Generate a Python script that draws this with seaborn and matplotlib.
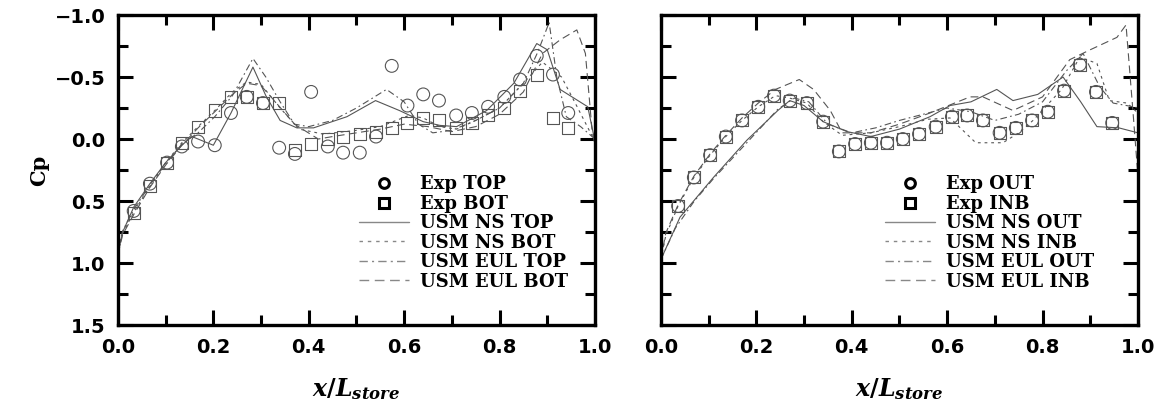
import numpy as np
import pandas as pd
import matplotlib
matplotlib.use('Agg')
import matplotlib.pyplot as plt
import seaborn as sns
from matplotlib.lines import Line2D

# ---- experiment points (x/L, Cp) ----
exp_x = [0.033, 0.067, 0.103, 0.134, 0.168, 0.203, 0.237, 0.270, 0.304, 0.338,
         0.371, 0.405, 0.440, 0.472, 0.507, 0.541, 0.574, 0.607, 0.640, 0.673,
         0.709, 0.742, 0.776, 0.810, 0.843, 0.878, 0.912, 0.944]
exp_top = [0.58, 0.36, 0.19, 0.06, 0.02, 0.05, -0.21, -0.34, -0.29, 0.07,
           0.12, -0.38, 0.06, 0.11, 0.11, -0.02, -0.59, -0.27, -0.36, -0.31,
           -0.19, -0.21, -0.26, -0.34, -0.48, -0.67, -0.52, -0.21]
exp_bot = [0.60, 0.38, 0.19, 0.03, -0.10, -0.23, -0.34, -0.34, -0.29, -0.29,
           0.09, 0.04, 0.00, -0.02, -0.04, -0.06, -0.09, -0.13, -0.17, -0.15,
           -0.09, -0.13, -0.19, -0.25, -0.39, -0.52, -0.17, -0.09]

exp2_x = [0.036, 0.069, 0.103, 0.136, 0.170, 0.204, 0.237, 0.270, 0.306, 0.340,
          0.373, 0.407, 0.440, 0.474, 0.507, 0.541, 0.576, 0.610, 0.642, 0.675,
          0.710, 0.744, 0.778, 0.811, 0.845, 0.878, 0.912, 0.946]
exp_inb = [0.54, 0.31, 0.13, -0.02, -0.15, -0.26, -0.35, -0.31, -0.29, -0.14,
           0.10, 0.04, 0.03, 0.03, 0.00, -0.04, -0.10, -0.18, -0.19, -0.15,
           -0.05, -0.09, -0.15, -0.22, -0.39, -0.60, -0.38, -0.13]
exp_out = exp_inb

# ---- left panel computations ----
ns_top_x = [0, 0.01, 0.033, 0.067, 0.10, 0.134, 0.155, 0.20, 0.237, 0.283, 0.31, 0.34,
            0.375, 0.41, 0.48, 0.54, 0.59, 0.64, 0.675, 0.71, 0.773, 0.83, 0.878,
            0.90, 0.927, 0.985, 1.0]
ns_top = [0.92, 0.75, 0.55, 0.36, 0.19, 0.05, -0.02, 0.05, -0.21, -0.58, -0.35, -0.15,
          -0.09, -0.09, -0.18, -0.31, -0.23, -0.14, -0.11, -0.10, -0.23, -0.45, -0.77,
          -0.72, -0.40, -0.26, 0.02]

ns_bot_x = [0, 0.01, 0.033, 0.067, 0.10, 0.134, 0.168, 0.203, 0.24, 0.27, 0.30, 0.34,
            0.38, 0.43, 0.50, 0.55, 0.61, 0.64, 0.675, 0.71, 0.75, 0.80, 0.85, 0.89,
            0.93, 0.96, 1.0]
ns_bot = [0.92, 0.76, 0.59, 0.38, 0.19, 0.03, -0.10, -0.23, -0.38, -0.46, -0.44, -0.25,
          -0.08, -0.04, -0.07, -0.10, -0.19, -0.17, -0.10, -0.08, -0.15, -0.25, -0.45,
          -0.62, -0.50, -0.28, 0.02]

eul_top_x = [0, 0.01, 0.033, 0.067, 0.10, 0.134, 0.168, 0.203, 0.24, 0.283, 0.31, 0.34,
             0.37, 0.40, 0.45, 0.50, 0.563, 0.60, 0.63, 0.66, 0.70, 0.75, 0.80, 0.85,
             0.88, 0.904, 0.92, 0.94, 0.97, 1.0]
eul_top = [0.90, 0.74, 0.57, 0.37, 0.20, 0.04, -0.05, -0.18, -0.35, -0.65, -0.50, -0.30,
           -0.12, -0.10, -0.15, -0.25, -0.40, -0.30, -0.12, -0.05, -0.07, -0.15, -0.25,
           -0.45, -0.70, -0.94, -0.50, -0.18, -0.10, 0.00]

eul_bot_x = [0, 0.01, 0.033, 0.067, 0.10, 0.134, 0.168, 0.203, 0.24, 0.27, 0.30, 0.33,
             0.37, 0.42, 0.45, 0.50, 0.55, 0.60, 0.65, 0.70, 0.75, 0.80, 0.85, 0.89,
             0.927, 0.962, 0.98, 0.994, 1.0]
eul_bot = [0.93, 0.77, 0.61, 0.39, 0.21, 0.05, -0.09, -0.22, -0.36, -0.45, -0.43, -0.30,
           -0.12, 0.00, -0.02, -0.05, -0.08, -0.12, -0.10, -0.06, -0.10, -0.20, -0.38,
           -0.69, -0.80, -0.88, -0.69, -0.07, 0.05]

# ---- right panel computations ----
ns_out_x = [0, 0.02, 0.04, 0.11, 0.18, 0.245, 0.27, 0.30, 0.34, 0.39, 0.44, 0.50, 0.564,
            0.606, 0.65, 0.704, 0.738, 0.79, 0.843, 0.88, 0.914, 0.96, 1.0]
ns_out = [0.97, 0.80, 0.63, 0.31, 0.01, -0.23, -0.31, -0.27, -0.14, -0.06, -0.02, -0.08,
          -0.18, -0.27, -0.30, -0.40, -0.31, -0.36, -0.50, -0.30, -0.10, -0.09, -0.05]

ns_inb_x = [0, 0.01, 0.036, 0.069, 0.103, 0.136, 0.17, 0.204, 0.24, 0.27, 0.306, 0.34,
            0.38, 0.44, 0.50, 0.56, 0.606, 0.66, 0.717, 0.75, 0.78, 0.84, 0.878, 0.914,
            0.94, 0.977, 1.0]
ns_inb = [0.97, 0.78, 0.54, 0.31, 0.13, -0.02, -0.15, -0.26, -0.35, -0.33, -0.29, -0.14,
          -0.03, -0.05, -0.10, -0.16, -0.17, 0.03, 0.03, -0.05, -0.15, -0.40, -0.66,
          -0.61, -0.31, -0.29, -0.21]

eul_out_x = [0, 0.03, 0.07, 0.11, 0.18, 0.245, 0.28, 0.31, 0.35, 0.40, 0.45, 0.50, 0.55,
             0.60, 0.65, 0.70, 0.75, 0.80, 0.85, 0.885, 0.92, 0.948, 0.99, 1.0]
eul_out = [0.97, 0.72, 0.50, 0.32, 0.03, -0.24, -0.33, -0.30, -0.12, -0.05, -0.09, -0.15,
           -0.20, -0.25, -0.22, -0.15, -0.20, -0.30, -0.55, -0.69, -0.42, -0.29, -0.26,
           -0.25]

eul_inb_x = [0, 0.01, 0.036, 0.069, 0.103, 0.136, 0.17, 0.204, 0.24, 0.29, 0.32, 0.355,
             0.38, 0.44, 0.50, 0.564, 0.648, 0.675, 0.738, 0.80, 0.857, 0.90, 0.956,
             0.975, 0.99, 1.0]
eul_inb = [0.97, 0.76, 0.53, 0.30, 0.12, -0.03, -0.17, -0.29, -0.40, -0.48, -0.40, -0.23,
           -0.05, -0.05, -0.12, -0.21, -0.34, -0.34, -0.23, -0.34, -0.64, -0.72, -0.82,
           -0.92, -0.20, 0.30]

sns.set_style('ticks')
plt.rcParams['font.family'] = ['DejaVu Sans']
plt.rcParams['mathtext.fontset'] = 'custom'
plt.rcParams['mathtext.it'] = 'DejaVu Serif:italic:bold'
plt.rcParams['mathtext.rm'] = 'DejaVu Serif:bold'
plt.rcParams['text.color'] = 'black'
plt.rcParams['axes.labelcolor'] = 'black'

fig = plt.figure(figsize=(11.62, 4.13), dpi=100)
ax1 = fig.add_axes([0.1015, 0.213, 0.4105, 0.7506])
ax2 = fig.add_axes([0.5688, 0.213, 0.4105, 0.7506])

lc = '#555555'
styles = {
    'solid': dict(linestyle='-'),
    'dot': dict(linestyle=(0, (2.5, 3.5))),
    'dashdot': dict(linestyle=(0, (6, 3, 1.5, 3))),
    'dash': dict(linestyle=(0, (7, 4))),
}


def draw(ax, ex, circ, sq, curves):
    for (cx, cy), st in zip(curves, ['solid', 'dot', 'dashdot', 'dash']):
        sns.lineplot(x=cx, y=cy, ax=ax, sort=False, estimator=None, color=lc,
                     lw=0.8, **styles[st])
    sns.scatterplot(x=ex, y=circ, ax=ax, marker='o', s=85, facecolor='none',
                    edgecolor=lc, linewidth=0.8, zorder=3)
    sns.scatterplot(x=ex, y=sq, ax=ax, marker='s', s=75, facecolor='none',
                    edgecolor=lc, linewidth=0.8, zorder=3)

    ax.set_xlim(0, 1)
    ax.set_ylim(1.5, -1.0)
    ax.set_xticks(np.arange(0, 1.01, 0.2))
    ax.set_xticks(np.arange(0.1, 1.0, 0.2), minor=True)
    ax.set_yticks(np.arange(-1.0, 1.51, 0.5))
    ax.set_yticks(np.arange(-0.75, 1.5, 0.5), minor=True)
    ax.tick_params(which='both', direction='in', top=True, right=True, width=2.2,
                   labelsize=14, pad=9, color='black', labelcolor='black')
    ax.tick_params(which='major', length=11)
    ax.tick_params(which='minor', length=7)
    for lab in ax.get_xticklabels() + ax.get_yticklabels():
        lab.set_fontweight('bold')
    for s in ax.spines.values():
        s.set_linewidth(2.4)
        s.set_color('black')
    ax.set_xlabel(r'$x/L_{store}$', fontsize=17, labelpad=14)

    handles = [
        Line2D([], [], marker='o', ls='none', mfc='none', mec='black', mew=2.2, ms=7),
        Line2D([], [], marker='s', ls='none', mfc='none', mec='black', mew=2.2, ms=6.5),
    ] + [Line2D([], [], color='#888888', lw=1.0, **styles[st])
         for st in ['solid', 'dot', 'dashdot', 'dash']]
    return handles


h1 = draw(ax1, exp_x, exp_top, exp_bot,
          [(ns_top_x, ns_top), (ns_bot_x, ns_bot), (eul_top_x, eul_top), (eul_bot_x, eul_bot)])
h2 = draw(ax2, exp2_x, exp_out, exp_inb,
          [(ns_out_x, ns_out), (ns_inb_x, ns_inb), (eul_out_x, eul_out), (eul_inb_x, eul_inb)])

leg_font = dict(family='DejaVu Serif', weight='bold', size=13)
ax1.legend(h1, ['Exp TOP', 'Exp BOT', 'USM NS TOP', 'USM NS BOT', 'USM EUL TOP', 'USM EUL BOT'],
           loc='lower left', bbox_to_anchor=(0.478, 0.07), frameon=False,
           prop=leg_font, handlelength=2.8, handletextpad=0.6, labelspacing=0.08,
           borderpad=0.2)
ax2.legend(h2, ['Exp OUT', 'Exp INB', 'USM NS OUT', 'USM NS INB', 'USM EUL OUT', 'USM EUL INB'],
           loc='lower left', bbox_to_anchor=(0.443, 0.07), frameon=False,
           prop=leg_font, handlelength=2.8, handletextpad=0.6, labelspacing=0.08,
           borderpad=0.2)

ax1.set_ylabel('Cp', fontsize=15, fontweight='bold', family='DejaVu Serif', labelpad=4)
ax2.set_yticklabels([])
ax2.set_ylabel('')

fig.savefig('out.png', dpi=100)
